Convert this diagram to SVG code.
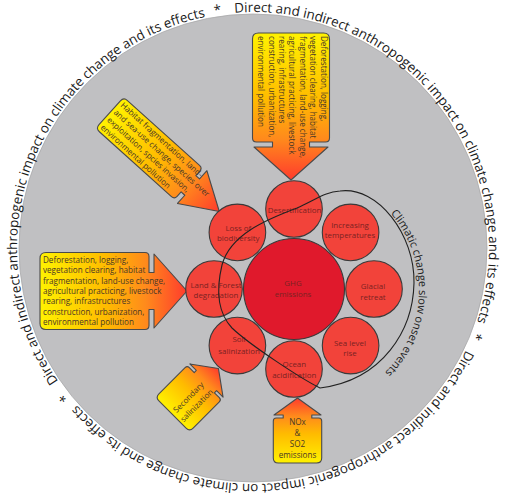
<svg xmlns="http://www.w3.org/2000/svg" width="505" height="501" viewBox="0 0 505 501">
<defs>
<style>
.ring{font-family:"Open Sans","Noto Sans",sans-serif;font-size:13.4px;fill:#1a1a1a}
.lbl{font-family:"Open Sans","Noto Sans",sans-serif;font-size:7.9px;fill:#7a2222;text-anchor:middle}
.atx{font-family:"Open Sans","Noto Sans",sans-serif;font-size:8.1px;fill:#4a3826}
.atc{font-family:"Open Sans","Noto Sans",sans-serif;font-size:8.1px;fill:#4a3826;text-anchor:middle}
.arrow{stroke:#4a4a4a;stroke-width:1.1;stroke-linejoin:round;fill:url(#gA)}
.small{fill:#f2433a;stroke:#3a3a3a;stroke-width:1.1}
.ghg{fill:#e0192c;stroke:#3a3a3a;stroke-width:1.1}
.cc{font-family:"Open Sans","Noto Sans",sans-serif;font-size:11px;fill:#1a1a1a}
</style>
<linearGradient id="gA" x1="0" y1="0" x2="1" y2="0">
<stop offset="0" stop-color="#fff200"/>
<stop offset="0.45" stop-color="#ffbb00"/>
<stop offset="0.72" stop-color="#ff8a1c"/>
<stop offset="1" stop-color="#ff3b2d"/>
</linearGradient>
<path id="ringPath" d="M 48.6,130 A 236,236 0 0,1 457.4,366 A 236,236 0 0,1 48.6,130 A 236,236 0 0,1 457.4,366 A 236,236 0 0,1 48.6,130"/>
<path id="ccPath" d="M 318,180 A 101,110 0 0,1 318,400"/>
</defs>
<rect x="0" y="0" width="505" height="501" fill="#ffffff"/>
<circle id="background-disc" cx="253" cy="248" r="234" fill="#c0c0c2" stroke="#a9a9ab" stroke-width="0.8"/>
<g id="ring-text">
<text class="ring"><textPath href="#ringPath" startOffset="228.6">Direct and indirect anthropogenic impact on climate change and its effects</textPath></text>
<text class="ring"><textPath href="#ringPath" startOffset="722.9">Direct and indirect anthropogenic impact on climate change and its effects</textPath></text>
<text class="ring"><textPath href="#ringPath" startOffset="1217.2">Direct and indirect anthropogenic impact on climate change and its effects</textPath></text>
<text class="ring" text-anchor="middle"><textPath href="#ringPath" startOffset="212.1">*</textPath></text>
<text class="ring" text-anchor="middle"><textPath href="#ringPath" startOffset="706.4">*</textPath></text>
<text class="ring" text-anchor="middle"><textPath href="#ringPath" startOffset="1200.7">*</textPath></text>
</g>
<g id="arrow-top" transform="translate(291,33) rotate(90)">
<path class="arrow" d="M 6,-38.5 H 105 Q 109,-38.5 109,-34.5 V -18.5 H 114 V -37 L 147,0 L 114,37 V 18.5 H 109 V 34.5 Q 109,38.5 105,38.5 H 6 Q 0,38.5 0,32.5 V -32.5 Q 0,-38.5 6,-38.5 Z"/>
<text class="atx"><tspan x="3" y="-29.5">Deforestation, logging,</tspan><tspan x="3" y="-19.1">vegetation clearing, habitat</tspan><tspan x="3" y="-8.7">fragmentation, land-use change,</tspan><tspan x="3" y="1.7">agricultural practicing, livestock</tspan><tspan x="3" y="12.1">rearing, infrastructures</tspan><tspan x="3" y="22.5">construction, urbanization,</tspan><tspan x="3" y="32.9">environmental pollution</tspan></text>
</g>
<g id="arrow-left" transform="translate(40,291)">
<path class="arrow" d="M 6,-38.5 H 105 Q 109,-38.5 109,-34.5 V -18.5 H 114 V -37 L 147,0 L 114,37 V 18.5 H 109 V 34.5 Q 109,38.5 105,38.5 H 6 Q 0,38.5 0,32.5 V -32.5 Q 0,-38.5 6,-38.5 Z"/>
<text class="atx"><tspan x="3" y="-28.3">Deforestation, logging,</tspan><tspan x="3" y="-17.9">vegetation clearing, habitat</tspan><tspan x="3" y="-7.5">fragmentation, land-use change,</tspan><tspan x="3" y="2.9">agricultural practicing, livestock</tspan><tspan x="3" y="13.3">rearing, infrastructures</tspan><tspan x="3" y="23.7">construction, urbanization,</tspan><tspan x="3" y="34.1">environmental pollution</tspan></text>
</g>
<g id="arrow-diagonal" transform="translate(109.7,112.8) rotate(42)">
<path class="arrow" d="M 5,-21 H 102 Q 106,-21 106,-17 V -11 H 111 V -22 L 147.5,0 L 111,22 V 11 H 106 V 17 Q 106,21 102,21 H 5 Q 0,21 0,16 V -16 Q 0,-21 5,-21 Z"/>
<text class="atx"><tspan x="3" y="-12">Habitat fragmentation, land-</tspan><tspan x="3" y="-2">and sea-use change, species over</tspan><tspan x="3" y="8">exploitation, spcies invasion,</tspan><tspan x="3" y="18">environmental pollution</tspan></text>
</g>
<g id="arrow-nox">
<path class="arrow" transform="translate(297.5,463) rotate(-90)" d="M 5,-24.2 H 42 Q 45,-24.2 45,-21.2 V -14.3 H 48 V -23.5 L 65,0 L 48,23.5 V 14.3 H 45 V 21.2 Q 45,24.2 42,24.2 H 5 Q 0,24.2 0,19.2 V -19.2 Q 0,-24.2 5,-24.2 Z"/>
<text class="atc"><tspan x="297.5" y="425">NOx</tspan><tspan x="297.5" y="436">&amp;</tspan><tspan x="297.5" y="447">SO2</tspan><tspan x="297.5" y="457.5">emissions</tspan></text>
</g>
<g id="arrow-secondary" transform="translate(172.5,414.5) rotate(-45)">
<path class="arrow" d="M 5,-24.2 H 42 Q 45,-24.2 45,-21.2 V -14.3 H 48 V -23.5 L 65,0 L 48,23.5 V 14.3 H 45 V 21.2 Q 45,24.2 42,24.2 H 5 Q 0,24.2 0,19.2 V -19.2 Q 0,-24.2 5,-24.2 Z"/>
<text class="atc"><tspan x="23.5" y="2">Secondary</tspan><tspan x="23.5" y="13.5">salinization</tspan></text>
</g>
<g id="ghg">
<circle class="ghg" cx="294" cy="289" r="50.5"/>
<text class="lbl"><tspan x="293" y="285.5">GHG</tspan><tspan x="293" y="297">emissions</tspan></text>
</g>
<g id="desertification">
<circle class="small" cx="294" cy="209" r="28.3"/>
<text class="lbl"><tspan x="294.5" y="212.5">Desertification</tspan></text>
</g>
<g id="increasing-temperatures">
<circle class="small" cx="350.6" cy="232.4" r="28.3"/>
<text class="lbl"><tspan x="350" y="228">Increasing</tspan><tspan x="350" y="238.3">temperatures</tspan></text>
</g>
<g id="glacial-retreat">
<circle class="small" cx="374" cy="289" r="28.3"/>
<text class="lbl"><tspan x="373" y="289.3">Glacial</tspan><tspan x="373" y="299.8">retreat</tspan></text>
</g>
<g id="sea-level-rise">
<circle class="small" cx="350.6" cy="345.6" r="28.3"/>
<text class="lbl"><tspan x="350" y="345.7">Sea level</tspan><tspan x="350" y="356">rise</tspan></text>
</g>
<g id="ocean-acidification">
<circle class="small" cx="294" cy="369" r="28.3"/>
<text class="lbl"><tspan x="294.3" y="366.7">Ocean</tspan><tspan x="294.3" y="377.7">acidification</tspan></text>
</g>
<g id="soil-salinization">
<circle class="small" cx="237.4" cy="345.6" r="28.3"/>
<text class="lbl"><tspan x="239" y="342.3">Soil</tspan><tspan x="239" y="354">salinization</tspan></text>
</g>
<g id="land-forest-degradation">
<circle class="small" cx="214" cy="289" r="28.3"/>
<text class="lbl"><tspan x="216" y="287.7">Land &amp; Forest</tspan><tspan x="216" y="297.7">degradation</tspan></text>
</g>
<g id="loss-of-biodiversity">
<circle class="small" cx="237.4" cy="232.4" r="28.3"/>
<text class="lbl"><tspan x="238.3" y="230.7">Loss of</tspan><tspan x="238.3" y="241">biodiversity</tspan></text>
</g>
<g id="connectors">
<path d="M 340,191 C 378,186 415,235 414,283 C 413,330 383,380 320,388 C 300,378 250,345 232,328 C 218,313 216,290 222,265 C 230,235 265,220 297,208 C 315,200 325,192 340,191 Z" fill="none" stroke="#222" stroke-width="1.1"/>
<text class="cc"><textPath href="#ccPath" startOffset="82">Climatic change slow onset events</textPath></text>
</g>
</svg>
